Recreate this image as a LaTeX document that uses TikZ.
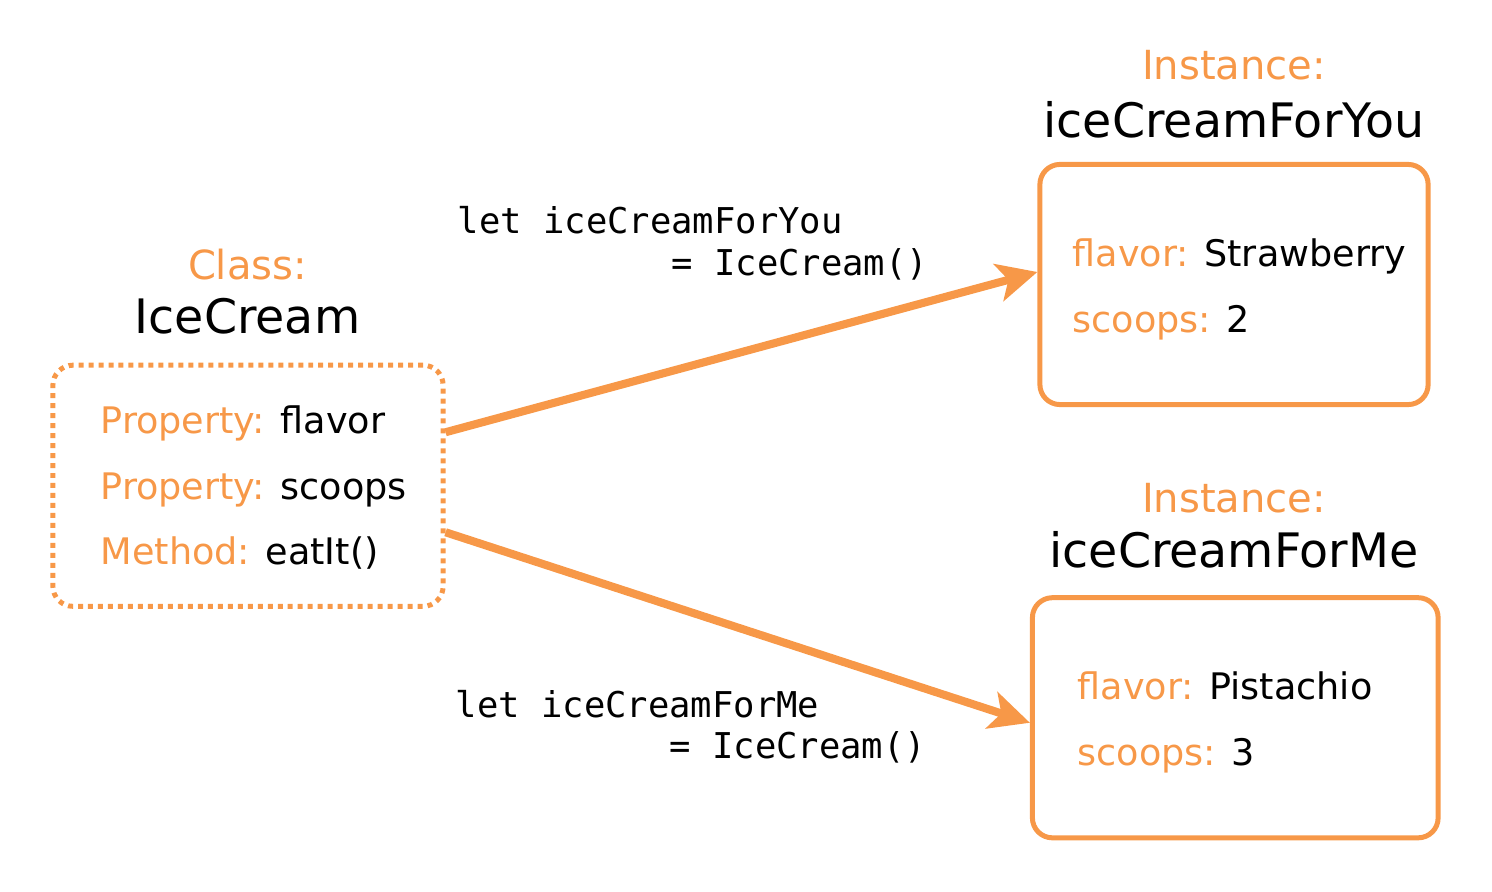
\documentclass[tikz,border=0pt]{standalone}
\usepackage{fontspec}
\setmainfont{DejaVu Sans}
\setmonofont{DejaVu Sans Mono}
\definecolor{CreamOrange}{RGB}{247,152,72}
\usepackage{tikz}
\usetikzlibrary{
    arrows.meta,
    positioning,
    calc,
}

\begin{document}
\begin{tikzpicture}[x=0.01cm, y=-0.01cm,
    title/.style={anchor=base, inner sep=0pt, font=\fontsize{13.5}{16}\selectfont},
    kind/.style={anchor=base, inner sep=0pt, text=CreamOrange, font=\fontsize{11.4}{14}\selectfont},
    row/.style={anchor=base west, inner sep=0pt, font=\fontsize{10.4}{12.5}\selectfont},
    code/.style={anchor=base west, inner sep=0pt, font=\ttfamily\fontsize{10.1}{12}\selectfont},
    classbox/.style={draw=CreamOrange, line width=1.42pt, dash pattern=on 1.42pt off 1.42pt,
        rounded corners=2mm, minimum width=3.9cm, minimum height=2.41cm, inner sep=0pt},
    objbox/.style={draw=CreamOrange, line width=1.42pt, rounded corners=2mm,
        minimum height=2.4cm, inner sep=0pt},
    makes/.style={draw=CreamOrange, line width=2.3pt,
        -{Stealth[length=4mm, width=3.8mm, inset=1mm]}},
]
    \useasboundingbox (0,0) rectangle (1492,891);

    % class
    \node[kind] (clsKind) at (247.5,279) {Class:};
    \node[title] (clsName) at (247.5,333) {IceCream};
    \node[classbox] (cls) at (248,485.75) {};
    \node[row] (clsFlavor) at (100,433) {\textcolor{CreamOrange}{Property:} flavor};
    \node[row] (clsScoops) at (100,499) {\textcolor{CreamOrange}{Property:} scoops};
    \node[row] (clsEat) at (100,564) {\textcolor{CreamOrange}{Method:} eatIt()};

    % instance for you
    \node[kind] (youKind) at (1234,80) {Instance:};
    \node[title] (youName) at (1234,137) {iceCreamForYou};
    \node[objbox, minimum width=3.88cm] (you) at (1234,284.5) {};
    \node[row] (youFlavor) at (1072,266) {\textcolor{CreamOrange}{flavor:} Strawberry};
    \node[row] (youScoops) at (1072,332) {\textcolor{CreamOrange}{scoops:} 2};

    % instance for me
    \node[kind] (meKind) at (1234,512) {Instance:};
    \node[title] (meName) at (1234,567) {iceCreamForMe};
    \node[objbox, minimum width=4.055cm] (me) at (1235.25,717.75) {};
    \node[row] (meFlavor) at (1077,699) {\textcolor{CreamOrange}{flavor:} Pistachio};
    \node[row] (meScoops) at (1077,765) {\textcolor{CreamOrange}{scoops:} 3};

    % constructor calls
    \node[code] (youCodeA) at (457,233) {let iceCreamForYou};
    \node[code] (youCodeB) at (457,275) {\hphantom{0000000000}= IceCream()};
    \node[code] (meCodeA) at (455,717) {let iceCreamForMe};
    \node[code] (meCodeB) at (455,758) {\hphantom{0000000000}= IceCream()};

    \draw[makes] ([yshift=5.35mm]cls.east) -- ([yshift=1.25mm]you.west);
    \draw[makes] ([yshift=-4.65mm]cls.east) -- ([yshift=-0.5mm]me.west);
\end{tikzpicture}
\end{document}
